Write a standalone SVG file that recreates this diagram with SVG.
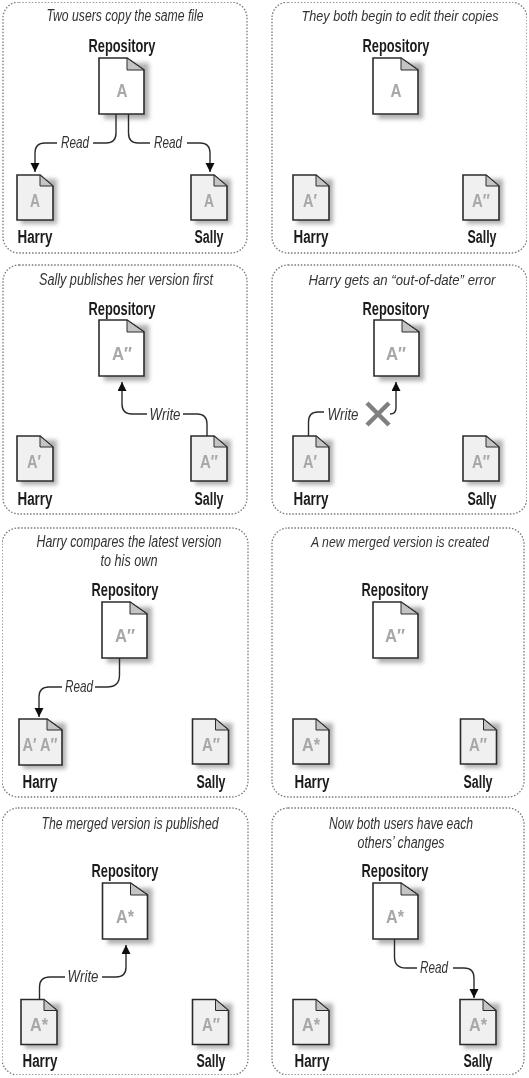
<svg xmlns="http://www.w3.org/2000/svg" width="529" height="1078" viewBox="0 0 529 1078">
<style>
text{font-family:"Liberation Sans Narrow","Liberation Sans",Arial,sans-serif;fill:#222;text-anchor:middle}
.title,.lab{font-style:italic;font-size:16px;fill:#333}
.lab{font-size:17px}
.wide{font-size:14.500px}
.mid{font-size:15px}
.name{font-weight:bold;font-size:18px;fill:#1c1c1c}
.a{font-weight:bold;font-size:19px;fill:#a8a8a8}
.au{font-weight:bold;font-size:18px;fill:#a8a8a8}
.panel{fill:#fff;stroke:#777;stroke-width:1.3;stroke-dasharray:1.5 1.7}
.body{stroke:#2c2c2c;stroke-width:1.6;stroke-linejoin:miter}
.repo{fill:#fff}.user{fill:#f0f0f0}
.fold{fill:#c4c4c4;stroke:#2c2c2c;stroke-width:1}
.shadow{fill:#b0b0b0;filter:url(#sh)}
.c{fill:none;stroke:#2c2c2c;stroke-width:1.4;marker-end:url(#arrow)}
.n{fill:none;stroke:#2c2c2c;stroke-width:1.4}
.x{stroke:#808080;stroke-width:4.5;fill:none}
</style>
<defs>
<filter id="soft" x="0" y="0" width="100%" height="100%"><feGaussianBlur stdDeviation="0.4"/></filter>
<filter id="sh" x="-20%" y="-20%" width="150%" height="150%"><feGaussianBlur stdDeviation="2"/></filter>
<marker id="arrow" markerUnits="userSpaceOnUse" markerWidth="11" markerHeight="10" refX="9" refY="4.500" orient="auto"><path d="M0,0 L9,4.500 L0,9 Z" fill="#111"/></marker>
<g id="docR"><path class="shadow" d="M5,5H50V61H5Z"/><path class="body repo" d="M0,0H28L45,12V56H0Z"/><path class="fold" d="M28,0V12H45Z"/></g>
<g id="docU"><path class="shadow" d="M4,4H40V49H4Z"/><path class="body user" d="M0,0H23L36,11V45H0Z"/><path class="fold" d="M23,0V11H36Z"/></g>
<g id="docW"><path class="shadow" d="M4,4H47V50H4Z"/><path class="body user" d="M0,0H28L43,11V46H0Z"/><path class="fold" d="M28,0V11H43Z"/></g>
</defs>
<rect width="529" height="1078" fill="#fff"/>
<g filter="url(#soft)">
<g id="panels">
<g id="panel1"><rect class="panel" x="3" y="2" width="244" height="251" rx="16"/><text class="title" x="125" y="21" textLength="157" lengthAdjust="spacingAndGlyphs">Two users copy the same file</text></g>
<g id="panel2"><rect class="panel" x="272" y="2" width="255" height="251" rx="16"/><text class="title wide" x="400" y="21" textLength="197" lengthAdjust="spacingAndGlyphs">They both begin to edit their copies</text></g>
<g id="panel3"><rect class="panel" x="3" y="265" width="244" height="249" rx="16"/><text class="title" x="126" y="285" textLength="174" lengthAdjust="spacingAndGlyphs">Sally publishes her version first</text></g>
<g id="panel4"><rect class="panel" x="272" y="265" width="255" height="249" rx="16"/><text class="title mid" x="402" y="285" textLength="187" lengthAdjust="spacingAndGlyphs">Harry gets an “out-of-date” error</text></g>
<g id="panel5"><rect class="panel" x="2" y="528" width="246" height="269" rx="16"/><text class="title" x="129" y="547" textLength="185" lengthAdjust="spacingAndGlyphs">Harry compares the latest version</text><text class="title" x="129" y="566" textLength="57" lengthAdjust="spacingAndGlyphs">to his own</text></g>
<g id="panel6"><rect class="panel" x="272" y="528" width="252" height="269" rx="16"/><text class="title mid" x="400" y="547" textLength="178" lengthAdjust="spacingAndGlyphs">A new merged version is created</text></g>
<g id="panel7"><rect class="panel" x="2" y="808" width="246" height="267" rx="16"/><text class="title" x="130" y="829" textLength="177" lengthAdjust="spacingAndGlyphs">The merged version is published</text></g>
<g id="panel8"><rect class="panel" x="272" y="808" width="252" height="267" rx="16"/><text class="title" x="401" y="829" textLength="144" lengthAdjust="spacingAndGlyphs">Now both users have each</text><text class="title" x="401" y="848" textLength="87" lengthAdjust="spacingAndGlyphs">others’ changes</text></g>
</g>
<g id="nodes">
<g id="p1-repo"><text class="name" x="122" y="52" textLength="67" lengthAdjust="spacingAndGlyphs">Repository</text><use href="#docR" x="99" y="58"/><text class="a" x="122" y="97" textLength="11" lengthAdjust="spacingAndGlyphs">A</text></g>
<g id="p1-harry"><use href="#docU" x="17" y="175"/><text class="au" x="35" y="207" textLength="10" lengthAdjust="spacingAndGlyphs">A</text><text class="name" x="35" y="243" textLength="35" lengthAdjust="spacingAndGlyphs">Harry</text></g>
<g id="p1-sally"><use href="#docU" x="191" y="175"/><text class="au" x="209" y="207" textLength="10" lengthAdjust="spacingAndGlyphs">A</text><text class="name" x="209" y="243" textLength="29" lengthAdjust="spacingAndGlyphs">Sally</text></g>

<g id="p2-repo"><text class="name" x="396" y="52" textLength="67" lengthAdjust="spacingAndGlyphs">Repository</text><use href="#docR" x="373" y="58"/><text class="a" x="396" y="97" textLength="11" lengthAdjust="spacingAndGlyphs">A</text></g>
<g id="p2-harry"><use href="#docU" x="293" y="175"/><text class="au" x="310" y="207" textLength="14" lengthAdjust="spacingAndGlyphs">A′</text><text class="name" x="311" y="243" textLength="35" lengthAdjust="spacingAndGlyphs">Harry</text></g>
<g id="p2-sally"><use href="#docU" x="463" y="175"/><text class="au" x="481" y="207" textLength="18" lengthAdjust="spacingAndGlyphs">A″</text><text class="name" x="482" y="243" textLength="29" lengthAdjust="spacingAndGlyphs">Sally</text></g>

<g id="p3-repo"><text class="name" x="122" y="315" textLength="67" lengthAdjust="spacingAndGlyphs">Repository</text><use href="#docR" x="99" y="320"/><text class="a" x="122" y="360" textLength="20" lengthAdjust="spacingAndGlyphs">A″</text></g>
<g id="p3-harry"><use href="#docU" x="17" y="436"/><text class="au" x="34" y="468" textLength="14" lengthAdjust="spacingAndGlyphs">A′</text><text class="name" x="35" y="505" textLength="35" lengthAdjust="spacingAndGlyphs">Harry</text></g>
<g id="p3-sally"><use href="#docU" x="191" y="436"/><text class="au" x="209" y="468" textLength="18" lengthAdjust="spacingAndGlyphs">A″</text><text class="name" x="209" y="505" textLength="29" lengthAdjust="spacingAndGlyphs">Sally</text></g>

<g id="p4-repo"><text class="name" x="396" y="315" textLength="67" lengthAdjust="spacingAndGlyphs">Repository</text><use href="#docR" x="374" y="320"/><text class="a" x="396" y="360" textLength="20" lengthAdjust="spacingAndGlyphs">A″</text></g>
<g id="p4-harry"><use href="#docU" x="293" y="436"/><text class="au" x="310" y="468" textLength="14" lengthAdjust="spacingAndGlyphs">A′</text><text class="name" x="311" y="505" textLength="35" lengthAdjust="spacingAndGlyphs">Harry</text></g>
<g id="p4-sally"><use href="#docU" x="463" y="436"/><text class="au" x="481" y="468" textLength="18" lengthAdjust="spacingAndGlyphs">A″</text><text class="name" x="482" y="505" textLength="29" lengthAdjust="spacingAndGlyphs">Sally</text></g>

<g id="p5-repo"><text class="name" x="125" y="596" textLength="67" lengthAdjust="spacingAndGlyphs">Repository</text><use href="#docR" x="102" y="602"/><text class="a" x="125" y="642" textLength="20" lengthAdjust="spacingAndGlyphs">A″</text></g>
<g id="p5-harry"><use href="#docW" x="19" y="719"/><text class="au" x="40" y="751" textLength="35" lengthAdjust="spacingAndGlyphs">A′ A″</text><text class="name" x="40" y="788" textLength="35" lengthAdjust="spacingAndGlyphs">Harry</text></g>
<g id="p5-sally"><use href="#docU" x="192.500" y="719"/><text class="au" x="211" y="751" textLength="18" lengthAdjust="spacingAndGlyphs">A″</text><text class="name" x="211" y="788" textLength="29" lengthAdjust="spacingAndGlyphs">Sally</text></g>

<g id="p6-repo"><text class="name" x="395" y="596" textLength="67" lengthAdjust="spacingAndGlyphs">Repository</text><use href="#docR" x="373" y="602"/><text class="a" x="395" y="642" textLength="20" lengthAdjust="spacingAndGlyphs">A″</text></g>
<g id="p6-harry"><use href="#docU" x="293" y="719"/><text class="au" x="311" y="751" textLength="18" lengthAdjust="spacingAndGlyphs">A*</text><text class="name" x="312" y="788" textLength="35" lengthAdjust="spacingAndGlyphs">Harry</text></g>
<g id="p6-sally"><use href="#docU" x="460.500" y="719"/><text class="au" x="478" y="751" textLength="18" lengthAdjust="spacingAndGlyphs">A″</text><text class="name" x="478" y="788" textLength="29" lengthAdjust="spacingAndGlyphs">Sally</text></g>

<g id="p7-repo"><text class="name" x="125" y="877" textLength="67" lengthAdjust="spacingAndGlyphs">Repository</text><use href="#docR" x="102.500" y="883"/><text class="a" x="125" y="923" textLength="18" lengthAdjust="spacingAndGlyphs">A*</text></g>
<g id="p7-harry"><use href="#docU" x="21" y="999.500"/><text class="au" x="39" y="1031" textLength="18" lengthAdjust="spacingAndGlyphs">A*</text><text class="name" x="40" y="1067" textLength="35" lengthAdjust="spacingAndGlyphs">Harry</text></g>
<g id="p7-sally"><use href="#docU" x="192.500" y="999.500"/><text class="au" x="211" y="1031" textLength="18" lengthAdjust="spacingAndGlyphs">A″</text><text class="name" x="211" y="1067" textLength="29" lengthAdjust="spacingAndGlyphs">Sally</text></g>

<g id="p8-repo"><text class="name" x="395" y="877" textLength="67" lengthAdjust="spacingAndGlyphs">Repository</text><use href="#docR" x="373" y="883"/><text class="a" x="395" y="923" textLength="18" lengthAdjust="spacingAndGlyphs">A*</text></g>
<g id="p8-harry"><use href="#docU" x="293" y="999.500"/><text class="au" x="311" y="1031" textLength="18" lengthAdjust="spacingAndGlyphs">A*</text><text class="name" x="312" y="1067" textLength="35" lengthAdjust="spacingAndGlyphs">Harry</text></g>
<g id="p8-sally"><use href="#docU" x="460" y="999.500"/><text class="au" x="478" y="1031" textLength="18" lengthAdjust="spacingAndGlyphs">A*</text><text class="name" x="478" y="1067" textLength="29" lengthAdjust="spacingAndGlyphs">Sally</text></g>
</g>
<g id="connectors">
<path class="n" d="M116,114V133Q116,143 106,143H93"/><path class="c" d="M57,143H45Q35,143 35,153V172"/><text class="lab" x="75" y="148" textLength="28" lengthAdjust="spacingAndGlyphs">Read</text>
<path class="n" d="M128.500,114V133Q128.500,143 138,143H150"/><path class="c" d="M187,143H200Q210,143 210,153V172"/><text class="lab" x="168" y="148" textLength="28" lengthAdjust="spacingAndGlyphs">Read</text>

<path class="n" d="M207,436V424Q207,414 197,414H183"/><path class="c" d="M147,414H132Q122,414 122,404V382"/><text class="lab" x="165" y="420" textLength="31" lengthAdjust="spacingAndGlyphs">Write</text>

<path class="n" d="M308.500,436V422Q308.500,412 318,412H324"/><text class="lab" x="343" y="420" textLength="31" lengthAdjust="spacingAndGlyphs">Write</text><path class="c" d="M390,414Q396,414 396,408V382"/><path class="x" d="M367,403L389,425M389,403L367,425"/>

<path class="n" d="M119.500,658V675Q119.500,687 107,687H95"/><path class="c" d="M62,687H49Q39,687 39,697V717"/><text class="lab" x="79" y="692" textLength="28" lengthAdjust="spacingAndGlyphs">Read</text>

<path class="n" d="M39.500,999V987Q39.500,977 50,977H65"/><text class="lab" x="83" y="982" textLength="31" lengthAdjust="spacingAndGlyphs">Write</text><path class="c" d="M102,977H116Q126,977 126,967V945"/>

<path class="n" d="M394.500,939V957Q394.500,968 406,968H417"/><text class="lab" x="434" y="973" textLength="28" lengthAdjust="spacingAndGlyphs">Read</text><path class="c" d="M453,968H464Q474,968 474,978V998"/>
</g>
</g>
</svg>
